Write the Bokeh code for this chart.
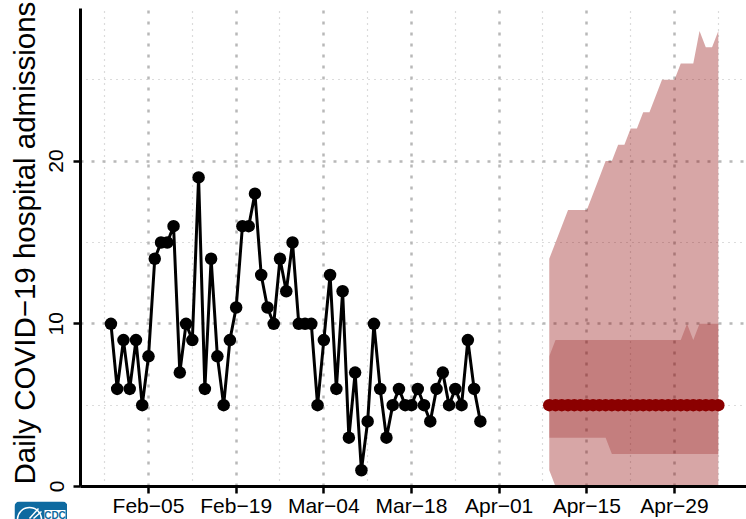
import math
from bokeh.plotting import figure
from bokeh.embed import file_html
from bokeh.resources import INLINE
from bokeh.models import FixedTicker, ColumnDataSource, Range1d, Label, Title, BoxAnnotation
import pandas as pd

obs_start = "2024-01-30"
obs_values = [10,6,9,6,9,5,8,14,15,15,16,7,10,9,19,6,14,8,5,9,11,16,16,18,13,11,10,14,12,15,
              10,10,10,5,9,13,6,12,3,7,1,4,10,6,3,5,6,5,5,6,5,4,6,7,5,6,5,9,6,4]
fc_start = "2024-04-09"
fc_median = [5]*28
fc_lo95 = [1]+[0]*27
fc_hi95 = [14,15,16,17,17,17,17,18,19,20,20,21,21,22,22,23,23,24,25,25,25,26,26,26,28,27,27,28]
fc_lo50 = [3]*10+[2]*18
fc_hi50 = [8]+[9]*21+[10,9,10,10,10,10]
major_dates = ["2024-02-05","2024-02-19","2024-03-04","2024-03-18","2024-04-01","2024-04-15","2024-04-29"]
major_labels = ["Feb\u221205","Feb\u221219","Mar\u221204","Mar\u221218","Apr\u221201","Apr\u221215","Apr\u221229"]
minor_dates = ["2024-01-29","2024-02-12","2024-02-26","2024-03-11","2024-03-25","2024-04-08","2024-04-22","2024-05-06"]
y_major = [0,10,20]
y_minor = [5,15,25]
y_title = "Daily COVID\u221219 hospital admissions"

def ms(d):
    return pd.Timestamp(d).value / 1e6

obs_x = pd.date_range(obs_start, periods=len(obs_values))
fc_x = pd.date_range(fc_start, periods=len(fc_median))
obs = ColumnDataSource(dict(x=obs_x, y=obs_values))
fc = ColumnDataSource(dict(x=fc_x, m=fc_median, lo95=fc_lo95, hi95=fc_hi95, lo50=fc_lo50, hi50=fc_hi50))

DAY = 86400000.0
feb5 = ms("2024-02-05")
p = figure(width=746, height=519, output_backend="svg", toolbar_location=None,
           x_axis_type="datetime",
           x_range=Range1d(feb5 - 10.86*DAY, feb5 + 95.5*DAY),
           y_range=Range1d(0, 29.38),
           min_border_left=80, min_border_right=0, min_border_top=8, min_border_bottom=33)
p.frame_width = 666
p.frame_height = 478
p.outline_line_color = None
p.background_fill_color = "white"

xt = FixedTicker(ticks=[ms(d) for d in major_dates], minor_ticks=[ms(d) for d in minor_dates])
yt = FixedTicker(ticks=y_major, minor_ticks=y_minor)
p.xaxis.ticker = xt
p.yaxis.ticker = yt
p.xaxis.major_label_overrides = {ms(d): l for d, l in zip(major_dates, major_labels)}

for ax in (p.xaxis[0], p.yaxis[0]):
    ax.axis_line_color = "black"
    ax.axis_line_width = 3
    ax.major_tick_line_color = "black"
    ax.major_tick_line_width = 2.5
    ax.major_tick_in = 0
    ax.major_tick_out = 7
    ax.minor_tick_line_color = None
    ax.major_label_text_font = "Liberation Sans"
    ax.major_label_text_font_size = "21px"
    ax.major_label_text_color = "black"
    ax.major_label_standoff = 0
p.yaxis.major_label_orientation = "parallel"
p.yaxis.major_label_standoff = 10

for g in (p.xgrid[0], p.ygrid[0]):
    g.grid_line_color = "#b8b8b8"
    g.grid_line_width = 2.5
    g.grid_line_dash = "3 8"
    g.minor_grid_line_color = "#b8b8b8"
    g.minor_grid_line_width = 1.2
    g.minor_grid_line_dash = "1 5"
p.xgrid.ticker = xt
p.ygrid.ticker = yt

p.varea(x="x", y1="lo95", y2="hi95", source=fc, fill_color="darkred", fill_alpha=0.35)
p.varea(x="x", y1="lo50", y2="hi50", source=fc, fill_color="darkred", fill_alpha=0.24)
p.line(x="x", y="m", source=fc, line_color="darkred", line_width=2.5)
p.scatter(x="x", y="m", source=fc, size=12.5, fill_color="darkred", line_color="darkred", line_width=0)
p.line(x="x", y="y", source=obs, line_color="black", line_width=3)
p.scatter(x="x", y="y", source=obs, size=12.5, fill_color="black", line_color="black", line_width=0)

p.add_layout(Title(text=y_title, align="left", offset=2, standoff=11,
                   text_font="Liberation Sans", text_font_size="29.5px", text_line_height=0.7,
                   text_font_style="normal", text_color="black"), "left")

# CDC badge: its own small figure, pinned to the bottom-left corner of the page
logo = figure(width=53, height=18, output_backend="svg", toolbar_location=None,
              x_range=Range1d(0, 53), y_range=Range1d(0, 18),
              min_border=0, min_border_left=0, min_border_right=0, min_border_top=0, min_border_bottom=0,
              x_axis_location=None, y_axis_location=None,
              styles={"position": "absolute", "left": "14px", "top": "501px"})
logo.grid.visible = False
logo.outline_line_color = None
logo.background_fill_color = None
logo.border_fill_color = None
BLUE = "#0e6aa0"
logo.add_layout(BoxAnnotation(left=0, right=53, bottom=-20, top=18, fill_color=BLUE, fill_alpha=1,
                              line_color=None, border_radius=5, level="underlay"))
logo.arc(x=[15], y=[0], radius=[12], radius_units="screen", start_angle=0, end_angle=math.pi,
         line_color="white", line_width=1.5)
logo.segment(x0=[15, 19], y0=[1, 1], x1=[24, 27], y1=[11, 8], line_color="white", line_width=1.5)
logo.add_layout(BoxAnnotation(left=30, right=51, bottom=-5, top=9.5, fill_color="white", fill_alpha=1,
                              line_color=None, level="underlay"))
logo.add_layout(Label(x=40.5, y=-1, text="CDC", text_font="Liberation Sans", text_font_size="10px",
                      text_font_style="bold", text_color=BLUE, text_align="center", text_baseline="bottom"))

open("out.html", "w").write(file_html([p, logo], INLINE))
